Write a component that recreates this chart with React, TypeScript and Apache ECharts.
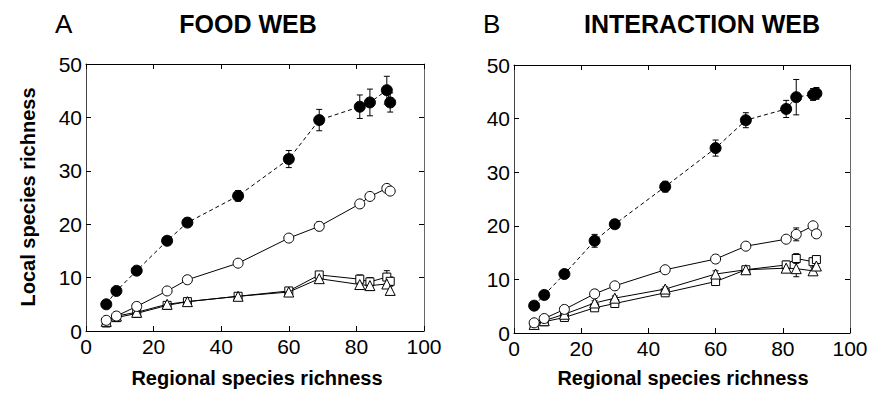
import React, { useEffect, useRef } from "react";
import * as echarts from "echarts";

const regional = [6, 9, 15, 24, 30, 45, 60, 69, 81, 84, 89, 90];

// Panel A: FOOD WEB
const foodFilled = [5.0, 7.5, 11.3, 16.9, 20.3, 25.3, 32.2, 39.5, 42.0, 42.8, 45.1, 42.8];
const foodFilledErr = [0.5, 0.5, 0.6, 0.7, 0.7, 1.0, 1.6, 2.0, 2.2, 2.5, 2.6, 1.8];
const foodOpen = [2.0, 2.8, 4.6, 7.5, 9.6, 12.7, 17.4, 19.6, 23.8, 25.2, 26.7, 26.2];
const foodOpenErr = [0.3, 0.3, 0.3, 0.4, 0.4, 0.4, 0.5, 0.8, 0.5, 0.5, 0.6, 0.6];
const foodSquare = [1.5, 2.5, 3.3, 4.8, 5.5, 6.5, 7.5, 10.5, 9.7, 9.2, 10.1, 9.3];
const foodSquareErr = [0.3, 0.3, 0.3, 0.4, 0.4, 0.4, 0.6, 0.6, 0.8, 0.8, 1.2, 0.8];
const foodTriangle = [1.8, 2.8, 3.5, 5.0, 5.5, 6.5, 7.3, 9.8, 8.7, 8.5, 8.8, 7.6];
const foodTriangleErr = [0.3, 0.3, 0.3, 0.4, 0.4, 0.4, 0.6, 0.6, 0.8, 0.9, 0.8, 0.8];

// Panel B: INTERACTION WEB
const interFilled = [5.1, 7.1, 11.0, 17.2, 20.3, 27.3, 34.5, 39.7, 41.8, 44.0, 44.5, 44.7];
const interFilledErr = [0.5, 0.5, 0.6, 1.2, 0.8, 1.0, 1.5, 1.4, 1.6, 3.3, 1.1, 1.1];
const interOpen = [1.9, 2.7, 4.4, 7.3, 8.8, 11.8, 13.8, 16.2, 17.5, 18.4, 20.0, 18.5];
const interOpenErr = [0.3, 0.3, 0.3, 0.4, 0.4, 0.4, 0.5, 0.5, 0.6, 1.2, 0.6, 0.6];
const interSquare = [1.7, 2.1, 2.9, 4.7, 5.5, 7.5, 9.6, 11.8, 12.7, 13.9, 13.3, 13.7];
const interSquareErr = [0.3, 0.3, 0.3, 0.4, 0.4, 0.4, 0.5, 0.5, 0.7, 0.9, 0.7, 0.7];
const interTriangle = [1.6, 2.3, 3.5, 5.6, 6.5, 8.2, 11.0, 11.8, 12.1, 12.0, 11.6, 12.5];
const interTriangleErr = [0.3, 0.3, 0.3, 0.4, 0.4, 0.4, 0.6, 0.5, 0.8, 1.5, 0.7, 0.7];

const xTicks = { min: 0, max: 100, interval: 20 };
const yTicks = { min: 0, max: 50, interval: 10 };

const FONT = "Arial, 'Liberation Sans', Helvetica, sans-serif";

function pairs(ys: number[]) {
  return regional.map((x, i) => [x, ys[i]]);
}
function triples(ys: number[], es: number[]) {
  return regional.map((x, i) => [x, ys[i], es[i]]);
}

function errRender(params: any, api: any) {
  const x = api.value(0);
  const y = api.value(1);
  const e = api.value(2);
  const top = api.coord([x, y + e]);
  const bot = api.coord([x, y - e]);
  const w = 3;
  const st = { stroke: "#000", lineWidth: 1 };
  return {
    type: "group",
    children: [
      { type: "line", shape: { x1: top[0], y1: top[1], x2: bot[0], y2: bot[1] }, style: st },
      { type: "line", shape: { x1: top[0] - w, y1: top[1], x2: top[0] + w, y2: top[1] }, style: st },
      { type: "line", shape: { x1: bot[0] - w, y1: bot[1], x2: bot[0] + w, y2: bot[1] }, style: st },
    ],
  };
}

function panelSeries(idx: number, sets: { y: number[]; e: number[]; kind: string }[]) {
  const out: any[] = [];
  sets.forEach((s) => {
    out.push({
      type: "custom",
      xAxisIndex: idx * 2,
      yAxisIndex: idx * 2,
      renderItem: errRender,
      data: triples(s.y, s.e),
      encode: { x: 0, y: 1 },
      z: 1,
      silent: true,
    });
  });
  sets.forEach((s, k) => {
    let symbol = "circle";
    let size = 10;
    let item: any = { color: "#fff", borderColor: "#000", borderWidth: 1 };
    let line: any = { color: "#000", width: 1 };
    if (s.kind === "filled") {
      item = { color: "#000", borderColor: "#000", borderWidth: 1 };
      line = { color: "#000", width: 1, type: [4, 3] };
      size = 11;
    } else if (s.kind === "square") {
      symbol = "rect";
      size = 8;
    } else if (s.kind === "triangle") {
      symbol = "triangle";
      size = 10;
    }
    out.push({
      type: "line",
      xAxisIndex: idx * 2,
      yAxisIndex: idx * 2,
      data: pairs(s.y),
      symbol,
      symbolSize: size,
      showAllSymbol: true,
      itemStyle: item,
      lineStyle: line,
      z: 2 + k,
      silent: true,
    });
  });
  return out;
}

function axesFor(gridIndex: number) {
  const tick = { inside: true, length: 5, lineStyle: { color: "#000", width: 1 } };
  const line = { show: true, onZero: false, lineStyle: { color: "#000", width: 1 } };
  const label = { fontSize: 21, color: "#000", fontFamily: FONT };
  const xs = [
    {
      type: "value", gridIndex, position: "bottom", ...xTicks,
      axisLine: line, axisTick: tick, splitLine: { show: false },
      axisLabel: { ...label, margin: 5 },
    },
    {
      type: "value", gridIndex, position: "top", ...xTicks,
      axisLine: line, axisTick: tick, splitLine: { show: false },
      axisLabel: { show: false },
    },
  ];
  const ys = [
    {
      type: "value", gridIndex, position: "left", ...yTicks,
      axisLine: { show: true, onZero: false, lineStyle: { color: "#444", width: 1 } },
      axisTick: tick, splitLine: { show: false },
      axisLabel: { ...label, margin: 4 },
    },
    {
      type: "value", gridIndex, position: "right", ...yTicks,
      axisLine: { show: true, onZero: false, lineStyle: { color: "#666", width: 1 } },
      axisTick: tick, splitLine: { show: false },
      axisLabel: { show: false },
    },
  ];
  return { xs, ys };
}

export default function App() {
  const ref = useRef<HTMLDivElement>(null);
  useEffect(() => {
    document.body.style.margin = "0";
    if (!ref.current) return;
    const chart = echarts.init(ref.current, undefined, { renderer: "svg" });
    const a = axesFor(0);
    const b = axesFor(1);
    const boldText = (text: string, x: number, y: number, size: number, rot = 0) => ({
      type: "text",
      x,
      y,
      rotation: rot,
      style: {
        text,
        fontSize: size,
        fontWeight: "bold",
        fontFamily: FONT,
        fill: "#000",
        textAlign: "center",
        textVerticalAlign: "middle",
      },
    });
    const plainText = (text: string, x: number, y: number, size: number) => ({
      type: "text",
      x,
      y,
      style: {
        text,
        fontSize: size,
        fontFamily: FONT,
        fill: "#000",
        textAlign: "left",
        textVerticalAlign: "middle",
      },
    });
    chart.setOption({
      animation: false,
      backgroundColor: "#fff",
      grid: [
        { left: 86, top: 64, width: 338, height: 267 },
        { left: 514, top: 65, width: 336, height: 268 },
      ],
      xAxis: [...a.xs, ...b.xs],
      yAxis: [...a.ys, ...b.ys],
      series: [
        ...panelSeries(0, [
          { y: foodSquare, e: foodSquareErr, kind: "square" },
          { y: foodTriangle, e: foodTriangleErr, kind: "triangle" },
          { y: foodOpen, e: foodOpenErr, kind: "open" },
          { y: foodFilled, e: foodFilledErr, kind: "filled" },
        ]),
        ...panelSeries(1, [
          { y: interSquare, e: interSquareErr, kind: "square" },
          { y: interTriangle, e: interTriangleErr, kind: "triangle" },
          { y: interOpen, e: interOpenErr, kind: "open" },
          { y: interFilled, e: interFilledErr, kind: "filled" },
        ]),
      ],
      graphic: [
        plainText("A", 55, 24, 26),
        boldText("FOOD WEB", 248, 24, 25),
        plainText("B", 483, 24, 26),
        boldText("INTERACTION WEB", 702, 24, 25),
        boldText("Local species richness", 28, 197, 20, Math.PI / 2),
        boldText("Regional species richness", 257, 378, 20),
        boldText("Regional species richness", 683, 378, 20),
      ],
    });
    return () => chart.dispose();
  }, []);
  return <div ref={ref} style={{ width: 874, height: 398 }} />;
}
